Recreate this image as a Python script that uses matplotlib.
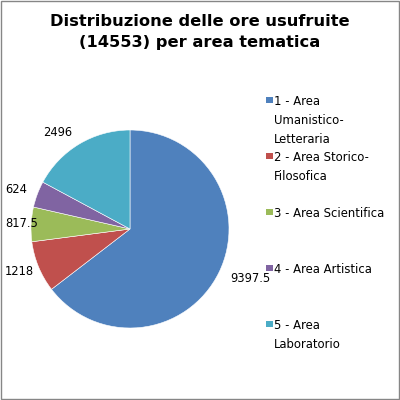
import matplotlib
matplotlib.use("Agg")
import matplotlib.pyplot as plt
from matplotlib.patches import Rectangle

# Ore usufruite per area tematica
areas = ["1 - Area\nUmanistico-\nLetteraria",
         "2 - Area Storico-\nFilosofica",
         "3 - Area Scientifica",
         "4 - Area Artistica",
         "5 - Area\nLaboratorio"]
hours = [9397.5, 1218, 817.5, 624, 2496]
hour_labels = ["9397.5", "1218", "817.5", "624", "2496"]
colors = ["#4F81BD", "#C0504D", "#9BBB59", "#8064A2", "#4BACC6"]

W = 400.0
fig = plt.figure(figsize=(4, 4), dpi=100)
fig.patch.set_facecolor("white")

# whole-chart frame
fig.patches.append(Rectangle((0.002, 0.002), 0.996, 0.996, transform=fig.transFigure,
                             fill=False, edgecolor="#868686", linewidth=1.0))

fig.text(0.5, 0.965, "Distribuzione delle ore usufruite\n(14553) per area tematica",
         ha="center", va="top", fontsize=11.7, fontweight="bold", linespacing=1.5)

ax = fig.add_axes([0.0775, 0.18, 0.495, 0.495])
wedges, texts = ax.pie(hours, labels=hour_labels, colors=colors, startangle=90,
                       counterclock=False, labeldistance=1.13,
                       wedgeprops={"edgecolor": "white", "linewidth": 0.4},
                       textprops={"fontsize": 8.3})
ax.set_xlim(-1, 1)
ax.set_ylim(-1, 1)
ax.set_aspect("equal")

# keep labels inside the chart area, as Excel does
fig.canvas.draw()
renderer = fig.canvas.get_renderer()
for t in texts:
    bb = t.get_window_extent(renderer)
    if bb.x0 < 5:
        x, y = ax.transData.transform(t.get_position())
        t.set_position(ax.transData.inverted().transform((x + 5 - bb.x0, y)))

# legend, entries spaced evenly like the original
y0 = 95 / W
step = 56 / W
for i, (lab, col) in enumerate(zip(areas, colors)):
    top = y0 + i * step
    fig.patches.append(Rectangle((266 / W, 1 - top - 8 / W), 6.5 / W, 6.5 / W,
                                 transform=fig.transFigure, facecolor=col,
                                 edgecolor="none"))
    fig.text(274 / W, 1 - top, lab, ha="left", va="top", fontsize=8.4,
             linespacing=1.6)

fig.savefig("out.png", dpi=100)
